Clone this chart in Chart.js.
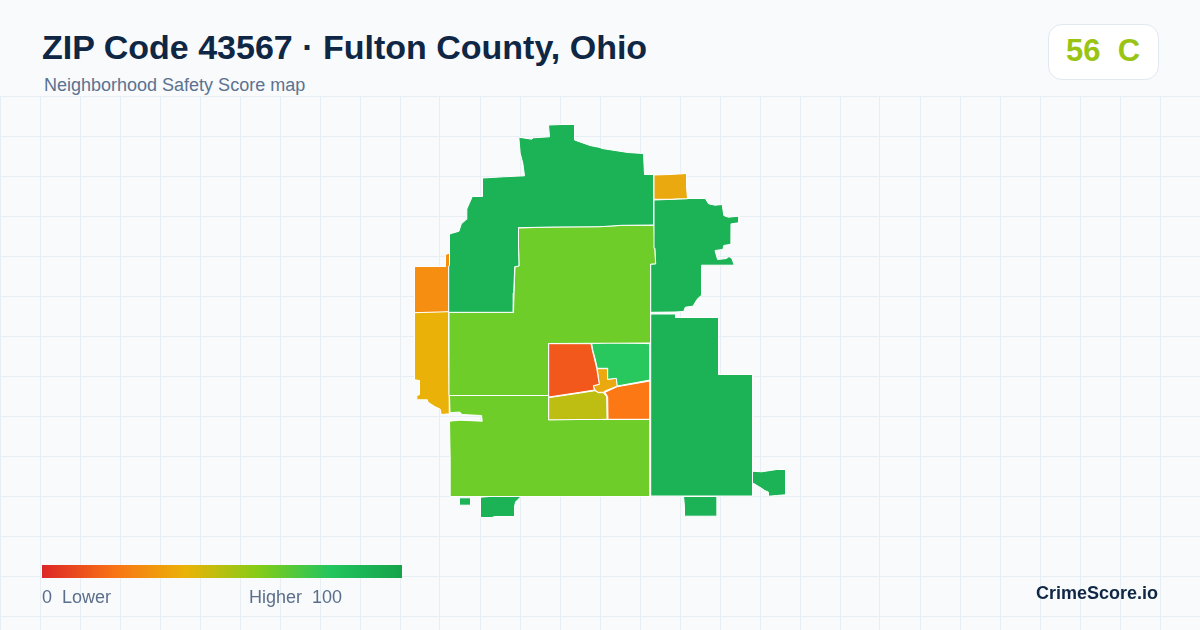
<!DOCTYPE html>
<html>
<head>
<meta charset="utf-8">
<title>ZIP Code 43567</title>
<script src="https://cdn.jsdelivr.net/npm/chart.js@4"></script>
<style>
  html, body { margin: 0; padding: 0; }
  body { width: 1200px; height: 630px; position: relative; overflow: hidden; background: #f8fafc; font-family: "Liberation Sans", Arial, sans-serif; }
  #map-chart { position: absolute; left: 0; top: 96px; }
  .text { position: absolute; white-space: pre; line-height: 1; }
  #title { left: 42px; top: 30px; font-size: 34px; font-weight: 700; color: #0f2744; }
  #subtitle { left: 44px; top: 76px; font-size: 18px; color: #5b7290; }
  #badge { position: absolute; left: 1048px; top: 24px; width: 109px; height: 54px; background: #fff; border: 1px solid #e2e8f0; border-radius: 14px; }
  #score { left: 1066px; top: 35px; font-size: 31px; font-weight: 700; color: #9ac414; }
  #ramp { position: absolute; left: 42px; top: 565px; width: 360px; height: 13px; }
  #low { left: 42px; top: 588px; font-size: 18px; color: #5b6f8a; }
  #high { left: 249px; top: 588px; font-size: 18px; color: #5b6f8a; }
  #brand { right: 42px; top: 584px; font-size: 18px; font-weight: 700; color: #0f2744; }
</style>
</head>
<body>
<canvas id="map-chart" width="1200" height="534"></canvas>
<div class="text" id="title">ZIP Code 43567 · Fulton County, Ohio</div>
<div class="text" id="subtitle">Neighborhood Safety Score map</div>
<div id="badge"></div>
<div class="text" id="score">56  C</div>
<div id="ramp"></div>
<div class="text" id="low">0  Lower</div>
<div class="text" id="high">Higher  100</div>
<div class="text" id="brand">CrimeScore.io</div>
<script>
// Grid ticks
const xTicks = [0, 40, 80, 120, 160, 200, 240, 280, 320, 360, 400, 440, 480, 520, 560, 600, 640, 680, 720, 760, 800, 840, 880, 920, 960, 1000, 1040, 1080, 1120, 1160, 1200];
const yTicks = [96, 136, 176, 216, 256, 296, 336, 376, 416, 456, 496, 536, 576, 616];

// Legend ramp, low to high
const rampColors = ['#dc2626', '#f97316', '#eab308', '#84cc16', '#22c55e', '#16a34a'];

// Tract outlines, in map units
const northTract = [[548.5,125],[562,124.5],[574.5,124.5],[574.5,140],[590,145.5],[600,147.5],[602,148.5],[628,152.5],[643.5,153.5],[644.5,174.5],[653.5,174.5],[653.5,225],[622,225.3],[600,226.7],[553,227],[518.5,227.7],[518.5,247],[519,266],[514.7,266.7],[513.7,293],[513.3,312.3],[448.7,312.3],[448.7,266.7],[449.5,265],[449.5,234],[459,231.2],[461.2,224],[466.2,219.5],[466.8,209],[472.3,196.5],[482.5,196.5],[482.5,178],[503.3,176.8],[524.5,175.8],[522.8,163.3],[520.2,153.3],[518.8,137.2],[531.7,139.2],[533.3,137.8],[549.5,136.8]];
const northEastCorner = [[654,175],[670,174.5],[686.5,173.5],[686.5,186.7],[687.5,198.8],[679,198.8],[670,199.3],[654,199.3]];
const eastTract = [[654,200],[679,199],[687,198.5],[705.3,198.5],[708.6,203.8],[715,205.2],[722.2,204.5],[723.8,215.5],[728.3,217.2],[738.8,216.2],[738.8,222.8],[731.5,223.8],[731.2,244.2],[723.8,245.5],[722.8,249.5],[715,250.5],[717.6,259.5],[726.5,258.5],[729,256.5],[732,258.7],[734.2,265.2],[701.5,265.2],[701.5,295.2],[697.1,299.3],[693,306.2],[685.3,307.2],[683.7,311.5],[675,312],[651.7,312.3],[650.7,311.7],[650.7,264.3],[655.7,264],[655,248.3],[654,225]];
const centerNorthTract = [[518.5,228],[553,227],[600,226.7],[622,225.3],[654,225.3],[655,248],[655.5,264],[650.7,264.3],[650.5,343],[548.5,343.5],[548.5,395.5],[449.3,395.5],[449,312.5],[513.5,312.5],[514,293],[515,267],[519,266],[518.5,247]];
const southTract = [[449.5,395.5],[548.5,395.5],[548.5,420],[578,419.5],[600,419.5],[650,419.5],[650,496.5],[450.5,496.5],[450.2,460],[449.5,421.2],[460,420.2],[482.2,421.2],[481.5,415.5],[462,414.5],[460,412.2],[456.7,412.2],[450,412.8]];
const westTract = [[414.5,312.7],[448.7,311.7],[448.7,353.3],[449.3,413.8],[441.2,414.5],[440.2,409.2],[434.7,406.5],[428,402.2],[427.4,399.8],[416.8,399.8],[416.8,395.6],[419.5,394.6],[419.5,380.5],[414.5,379.8]];
const westUpperTract = [[414.5,266.5],[445.5,266.5],[445.5,254.6],[450,252.8],[450,265],[448.7,266.7],[448.7,312.3],[431.7,312.7],[414.5,313]];
const southEastTract = [[650.7,314],[675.5,314],[675.5,317.5],[718.5,317.5],[718.5,374.5],[752.5,374.5],[752.5,496],[650.7,496]];
const eastSpur = [[752,471.2],[761.7,471.8],[776.7,469.5],[785.5,469.5],[785.5,494.8],[776.7,495.5],[768.8,496.2],[768.5,492.2],[764.8,490.5],[759.8,487.2],[752,482.5]];
const southPatchEast = [[683.5,496.5],[717.2,496.5],[717.2,516.2],[684.5,516.2],[684.5,506.7]];
const southPatchWest = [[480.5,497.2],[489.3,496.5],[521,496.5],[515.5,502],[514.5,506.7],[514.5,516.5],[495,516.5],[491.7,517.5],[480.5,517.5]];
const southPatchSmall = [[459.5,497.8],[470.5,497.8],[470.5,505.2],[459.5,505.2]];
const townWest = [[548.7,343.7],[591,343.7],[592.3,350],[594.3,358.3],[596.7,368.3],[599.3,384.3],[593.3,385.7],[594.3,390],[580,392.3],[548.7,397]];
const townNorth = [[591.7,343.7],[606.7,342.7],[640,343.3],[650,343.7],[650,380],[617.3,386],[616.3,378.3],[607.7,379.3],[607.7,368.3],[597.3,368.3],[595,358.3],[592.7,350]];
const townCenter = [[597.3,368.7],[607.7,368.7],[607.7,379.3],[616.3,378.3],[617.3,386],[605,391],[603.3,392.3],[598.3,392.3],[595,390],[593.3,385.7],[599.3,384.3]];
const townEast = [[650,381],[650,419.3],[608,419.3],[607.7,396.7],[605,392.3],[617.3,386.7]];
const townSouth = [[548.7,397.7],[580,393],[595,390.7],[598.3,392.7],[603.3,392.7],[606.7,396.7],[607,419.3],[578.3,420],[548.7,420]];

const tracts = [northTract, northEastCorner, eastTract, centerNorthTract, southTract, westTract, westUpperTract, southEastTract, eastSpur, southPatchEast, southPatchWest, southPatchSmall, townWest, townNorth, townCenter, townEast, townSouth];
const tractColors = ['#1cb356', '#eaa90f', '#1cb356', '#6fcd2a', '#6fcd2a', '#eab208', '#f58e11', '#1cb356', '#1cb356', '#1cb356', '#1cb356', '#1cb356', '#f2581c', '#29c85f', '#eaa90f', '#fc7814', '#bebe12'];

document.getElementById('ramp').style.background = `linear-gradient(to right, ${rampColors.join(', ')})`;

new Chart(document.getElementById('map-chart'), {
  type: 'scatter',
  data: {
    datasets: tracts.map((outline, i) => ({
      data: [...outline, outline[0]].map(([x, y]) => ({ x, y })),
      showLine: true,
      fill: 'shape',
      backgroundColor: tractColors[i],
      borderColor: '#ffffff',
      borderWidth: 1,
      borderJoinStyle: 'miter',
      pointRadius: 0,
      tension: 0
    }))
  },
  options: {
    responsive: false,
    animation: false,
    layout: { padding: 0 },
    scales: {
      x: {
        type: 'linear',
        min: 0,
        max: 1200,
        afterBuildTicks: scale => { scale.ticks = xTicks.map(value => ({ value })); },
        ticks: { display: false },
        grid: { color: '#e8eff4', lineWidth: 1, drawTicks: false },
        border: { display: false }
      },
      y: {
        type: 'linear',
        reverse: true,
        min: 96,
        max: 630,
        afterBuildTicks: scale => { scale.ticks = yTicks.map(value => ({ value })); },
        ticks: { display: false },
        grid: { color: '#e8eff4', lineWidth: 1, drawTicks: false },
        border: { display: false }
      }
    },
    plugins: {
      legend: { display: false },
      tooltip: { enabled: false }
    }
  }
});
</script>
</body>
</html>
